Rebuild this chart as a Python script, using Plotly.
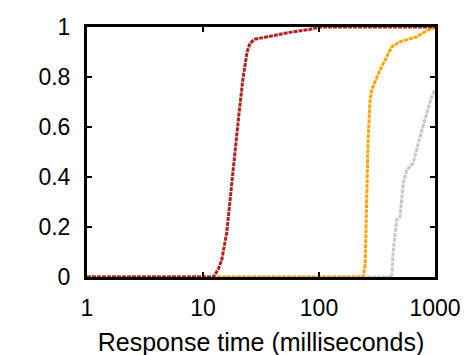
import plotly.graph_objects as go

# response time CDFs (ms, fraction)
red_x = [1, 12.3, 13.5, 14.5, 16, 17.1, 18.2, 19.3, 20.5, 22.2, 24, 25.4, 28, 35, 43, 60, 83, 100, 1000]
red_y = [0, 0, 0.03, 0.068, 0.176, 0.308, 0.44, 0.55, 0.66, 0.80, 0.90, 0.935, 0.951, 0.96, 0.968, 0.981, 0.99, 1, 1]

orange_x = [1, 240, 250, 256, 265, 275, 284, 336, 424, 499, 695, 871, 935, 1000]
orange_y = [0, 0, 0.05, 0.3, 0.55, 0.70, 0.748, 0.828, 0.921, 0.941, 0.961, 0.988, 0.995, 1]

gray_x = [1, 423, 437, 467, 499, 533, 570, 648, 742, 850, 935, 1000]
gray_y = [0, 0, 0.108, 0.228, 0.241, 0.375, 0.428, 0.455, 0.561, 0.655, 0.721, 0.75]

x_ticks = [1, 10, 100, 1000]
x_labels = ["1", "10", "100", "1000"]
y_ticks = [0, 0.2, 0.4, 0.6, 0.8, 1]
y_labels = ["0", "0.2", "0.4", "0.6", "0.8", "1"]

fig = go.Figure()
for xs, ys, col in [(gray_x, gray_y, "#C8C8C8"),
                    (orange_x, orange_y, "#FFA500"),
                    (red_x, red_y, "#B22222")]:
    fig.add_trace(go.Scatter(x=xs, y=ys, mode="lines",
                             line=dict(color=col, width=3, dash="4px,1px"),
                             showlegend=False, cliponaxis=False))

font = dict(family="Liberation Sans, Arial", size=23, color="black")
# page body has 8px margin, so shift margins to compensate
fig.update_layout(
    width=473, height=355,
    margin=dict(l=79, r=46, t=19, b=86),
    paper_bgcolor="white", plot_bgcolor="white",
    font=font,
)
fig.update_xaxes(type="log", range=[0, 3], automargin=False,
                 tickvals=x_ticks, ticktext=x_labels,
                 showline=True, linewidth=3, linecolor="black", mirror="ticks",
                 ticks="inside", ticklen=5, tickwidth=2, tickcolor="black",
                 showgrid=False, zeroline=False, ticklabelstandoff=8,
                 title=dict(text="Response time (milliseconds)", standoff=14,
                            font=dict(size=25)))
fig.update_yaxes(range=[0, 1], automargin=False,
                 tickvals=y_ticks, ticktext=y_labels,
                 showline=True, linewidth=3, linecolor="black", mirror="ticks",
                 ticks="inside", ticklen=5, tickwidth=2, tickcolor="black",
                 showgrid=False, zeroline=False, ticklabelstandoff=9)

fig.write_html("out.html")
